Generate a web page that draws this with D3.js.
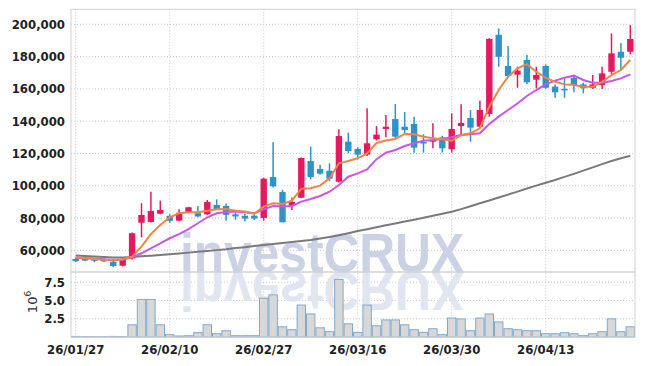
<!DOCTYPE html>
<html>
<head>
<meta charset="utf-8">
<script src="https://cdn.jsdelivr.net/npm/d3@7"></script>
<style>
  body { margin: 0; background: #fff; }
  svg { display: block; }
  .tick-label { font-family: "Liberation Sans Narrow", "DejaVu Sans Condensed", sans-serif; font-weight: bold; font-size: 13px; fill: #222; }
</style>
</head>
<body>
<div id="chart"></div>
<script>
// Trading days shown on the chart
let dates = ["26/01/27","26/01/28","26/01/29","26/01/30","26/02/02","26/02/03","26/02/04","26/02/05","26/02/06","26/02/09",
    "26/02/10","26/02/11","26/02/12","26/02/13","26/02/19","26/02/20","26/02/23","26/02/24","26/02/25","26/02/26",
    "26/02/27","26/03/03","26/03/04","26/03/05","26/03/06","26/03/09","26/03/10","26/03/11","26/03/12","26/03/13",
    "26/03/16","26/03/17","26/03/18","26/03/19","26/03/20","26/03/23","26/03/24","26/03/25","26/03/26","26/03/27",
    "26/03/30","26/03/31","26/04/01","26/04/02","26/04/03","26/04/06","26/04/07","26/04/08","26/04/09","26/04/10",
    "26/04/13","26/04/14","26/04/15","26/04/16","26/04/17","26/04/20","26/04/21","26/04/22","26/04/23","26/04/24"];

let open = [54700,54700,54500,54300,53000,50500,55000,77100,77600,82700,81400,78400,83400,83000,82300,88100,87500,82300,81400,81500,
    80100,105400,96100,87700,92600,115300,110400,109300,102500,127300,122800,119300,128800,135200,141300,136600,138300,127100,127300,130000,
    122600,137000,142000,136600,144500,193500,174200,168800,177900,165700,174200,161400,160000,166900,162800,160700,162400,170600,183000,183000];
let high = [55600,55200,55000,55000,53400,55200,71000,89200,96300,90800,82400,85500,87000,87500,91200,91600,89000,83600,82500,82200,
    105000,126900,97500,92800,117500,124200,113100,113900,135000,132900,123800,148000,137000,143900,150600,145700,142800,131900,138700,131000,
    144900,150500,146900,152700,191500,197500,186500,173700,181000,173700,175200,162800,166100,168600,163800,168600,173700,194400,188200,199500];
let low = [52800,53300,52600,52800,49700,50000,54300,68100,77200,82400,77000,78000,83000,80500,82000,85000,78400,79000,77800,78800,
    78400,99000,77400,85000,92300,104000,106800,102800,102000,120100,116400,118500,128000,130000,128800,131400,120500,120500,123200,120700,
    120500,131400,127300,136000,142800,173700,167200,160700,163000,160300,160000,154500,154500,157900,157300,160000,160000,169000,171700,181400];
let close = [53300,53700,54300,53200,50300,54700,70600,81900,84400,85000,78300,83300,86700,81000,90000,85600,82000,81000,79700,79700,
    104400,99700,77400,90000,117200,105400,107500,104400,130800,121500,119300,126300,131700,136600,130400,134500,123600,126500,128400,123200,
    135200,138900,136000,146900,190900,179900,168000,171300,164100,168600,160700,157900,159600,162400,160400,162800,169600,182000,179300,190900];

// Moving averages (short / medium / long)
let maShort = [55800,55200,54600,54200,54000,54400,56100,62300,70100,75700,80500,83000,83600,83600,84600,85400,85600,84600,84000,82700,
    87100,89200,88700,90800,98200,98500,100100,104600,113900,115300,117000,120100,126500,128000,129000,132100,131900,130400,129400,128800,
    127900,131400,132500,135600,149000,159300,167600,172800,175300,170600,166900,164400,162800,162400,161400,161400,164400,168600,171700,177900];
let maMid = [55500,55200,54900,54500,54000,54300,55700,58200,61300,64400,67500,70100,73200,76800,80500,83000,83700,84000,83600,83000,
    85400,87500,87100,87500,90200,91800,93700,96300,100500,105600,107700,110200,116500,120500,122200,124600,126300,127900,128300,129000,
    130000,131400,131900,132500,138300,142800,146900,151000,155600,159300,162800,165100,166900,168200,165500,163800,163800,164900,166500,169000];
let maLong = [56800,56500,56200,55900,55650,55600,55850,56300,56700,57150,57600,58100,58600,59100,59650,60150,60700,61400,62000,62700,
    63300,63950,64550,65200,65800,66400,67400,68300,69400,70650,72000,73100,74300,75500,76700,77850,79000,80150,81400,82650,
    83900,85550,87350,89150,90900,92700,94550,96400,98300,100100,101900,103600,105500,107400,109400,111400,113400,115300,117000,118600];

// Volume in millions of shares
let volume = [0.08,0.06,0.05,0.05,0.08,0.07,1.67,5.14,5.14,1.67,0.32,0.14,0.18,0.59,1.67,0.45,0.86,0.18,0.18,0.18,
    5.3,5.77,1.4,1.0,4.37,3.15,1.26,0.72,7.88,1.8,0.63,4.37,1.53,2.34,2.34,1.67,1.0,0.63,1.13,0.32,
    2.6,2.48,0.86,2.6,3.15,2.07,1.13,1.0,0.86,0.86,0.45,0.45,0.59,0.45,0.18,0.45,0.72,2.48,0.72,1.4];

let priceTicks = [60000, 80000, 100000, 120000, 140000, 160000, 180000, 200000];
let volumeTicks = [2.5, 5.0, 7.5];
let dateTicks = ["26/01/27", "26/02/10", "26/02/27", "26/03/16", "26/03/30", "26/04/13"];

const WIDTH = 645, HEIGHT = 366;
const UP = "#e5195f", DOWN = "#2e93c6";
let left = 71, right = 635;
let mainTop = 9.3, mainBottom = 272, volTop = 272, volBottom = 337;

let svg = d3.select("#chart").append("svg")
    .attr("width", WIDTH)
    .attr("height", HEIGHT);

let candles = d3.range(dates.length).map(function(i) {
    return {date: dates[i], o: open[i], h: high[i], l: low[i], c: close[i], v: volume[i]};
});

// Scales
let x = d3.scaleBand()
    .domain(dates)
    .range([left, right])
    .padding(0);
let y = d3.scaleLinear()
    .domain([46600, 209300])
    .range([mainBottom, mainTop]);
let yVol = d3.scaleLinear()
    .domain([0, 8.9])
    .range([volBottom, volTop]);
let cx = function(d) { return x(d) + x.bandwidth() / 2; };

// Grid lines (dotted)
let grid = svg.append("g").attr("stroke", "#c6c6da").attr("stroke-dasharray", "1,2");
grid.selectAll(".hgrid").data(priceTicks).enter().append("line")
    .attr("x1", left).attr("x2", right)
    .attr("y1", function(d) { return y(d); }).attr("y2", function(d) { return y(d); });
grid.selectAll(".vgrid").data(volumeTicks).enter().append("line")
    .attr("x1", left).attr("x2", right)
    .attr("y1", function(d) { return yVol(d); }).attr("y2", function(d) { return yVol(d); });
grid.selectAll(".xgrid").data(dateTicks).enter().append("line")
    .attr("x1", function(d) { return cx(d); }).attr("x2", function(d) { return cx(d); })
    .attr("y1", mainTop).attr("y2", volBottom);

// Watermark, drawn once in defs and reused for its reflection
svg.append("defs").append("text")
    .attr("id", "watermark")
    .attr("x", 180).attr("y", 272)
    .attr("textLength", 284).attr("lengthAdjust", "spacingAndGlyphs")
    .style("font-family", "Liberation Sans, Arial, sans-serif")
    .style("font-weight", "bold").style("font-size", "55px")
    .text("investCRUX");
svg.append("use").attr("href", "#watermark").attr("fill", "#cbd2e5");
svg.append("use").attr("href", "#watermark").attr("fill", "#e1e5ef")
    .attr("transform", "translate(0,544) scale(1,-1)");

// Volume bars
svg.append("g").selectAll("rect").data(candles).enter().append("rect")
    .attr("x", function(d) { return x(d.date) + 0.5; })
    .attr("width", x.bandwidth() - 1)
    .attr("y", function(d) { return yVol(d.v); })
    .attr("height", function(d) { return yVol(0) - yVol(d.v); })
    .attr("fill", "#d8d8d8")
    .attr("stroke", "#7eaad0")
    .attr("stroke-width", 1);

// Candle wicks and bodies
let candleG = svg.append("g");
candleG.selectAll("line").data(candles).enter().append("line")
    .attr("x1", function(d) { return cx(d.date); })
    .attr("x2", function(d) { return cx(d.date); })
    .attr("y1", function(d) { return y(d.h); })
    .attr("y2", function(d) { return y(d.l); })
    .attr("stroke", function(d) { return d.c >= d.o ? UP : DOWN; })
    .attr("stroke-width", 1.5);
candleG.selectAll("rect").data(candles).enter().append("rect")
    .attr("x", function(d) { return cx(d.date) - 3.2; })
    .attr("width", 6.4)
    .attr("y", function(d) { return y(Math.max(d.o, d.c)); })
    .attr("height", function(d) { return Math.max(1.5, Math.abs(y(d.o) - y(d.c))); })
    .attr("fill", function(d) { return d.c >= d.o ? UP : DOWN; });

// Moving average lines
let maLine = function(values) {
    return d3.line()
        .x(function(d, i) { return cx(dates[i]); })
        .y(function(d) { return y(d); })(values);
};
svg.append("path").attr("d", maLine(maLong)).attr("fill", "none").attr("stroke", "#7a7a7a").attr("stroke-width", 2);
svg.append("path").attr("d", maLine(maMid)).attr("fill", "none").attr("stroke", "#cc55e8").attr("stroke-width", 2);
svg.append("path").attr("d", maLine(maShort)).attr("fill", "none").attr("stroke", "#ee8448").attr("stroke-width", 2);

// Panel frames
let frame = svg.append("g").attr("fill", "none").attr("stroke", "#d2d2d2");
frame.append("rect").attr("x", left).attr("y", mainTop).attr("width", right - left).attr("height", mainBottom - mainTop);
frame.append("rect").attr("x", left).attr("y", volTop).attr("width", right - left).attr("height", volBottom - volTop);

// Axis labels
svg.append("g").selectAll("text").data(priceTicks).enter().append("text")
    .attr("class", "tick-label")
    .attr("x", 65).attr("y", function(d) { return y(d); })
    .attr("dy", "0.35em")
    .style("text-anchor", "end")
    .text(function(d) { return d3.format(",")(d); });
svg.append("g").selectAll("text").data(volumeTicks).enter().append("text")
    .attr("class", "tick-label")
    .attr("x", 65).attr("y", function(d) { return yVol(d); })
    .attr("dy", "0.35em")
    .style("text-anchor", "end")
    .text(function(d) { return d3.format(".1f")(d); });
svg.append("g").selectAll("text").data(dateTicks).enter().append("text")
    .attr("class", "tick-label")
    .attr("x", function(d) { return cx(d); }).attr("y", 354)
    .style("text-anchor", "middle")
    .text(function(d) { return d; });

// Volume unit label
let unit = svg.append("text")
    .attr("transform", "translate(37, 302) rotate(-90)")
    .style("text-anchor", "middle")
    .style("font-family", "DejaVu Sans, sans-serif")
    .style("font-size", "13px")
    .attr("fill", "#333");
unit.append("tspan").text("10");
unit.append("tspan").attr("dy", -6).style("font-size", "9px").text("6");
</script>
</body>
</html>
